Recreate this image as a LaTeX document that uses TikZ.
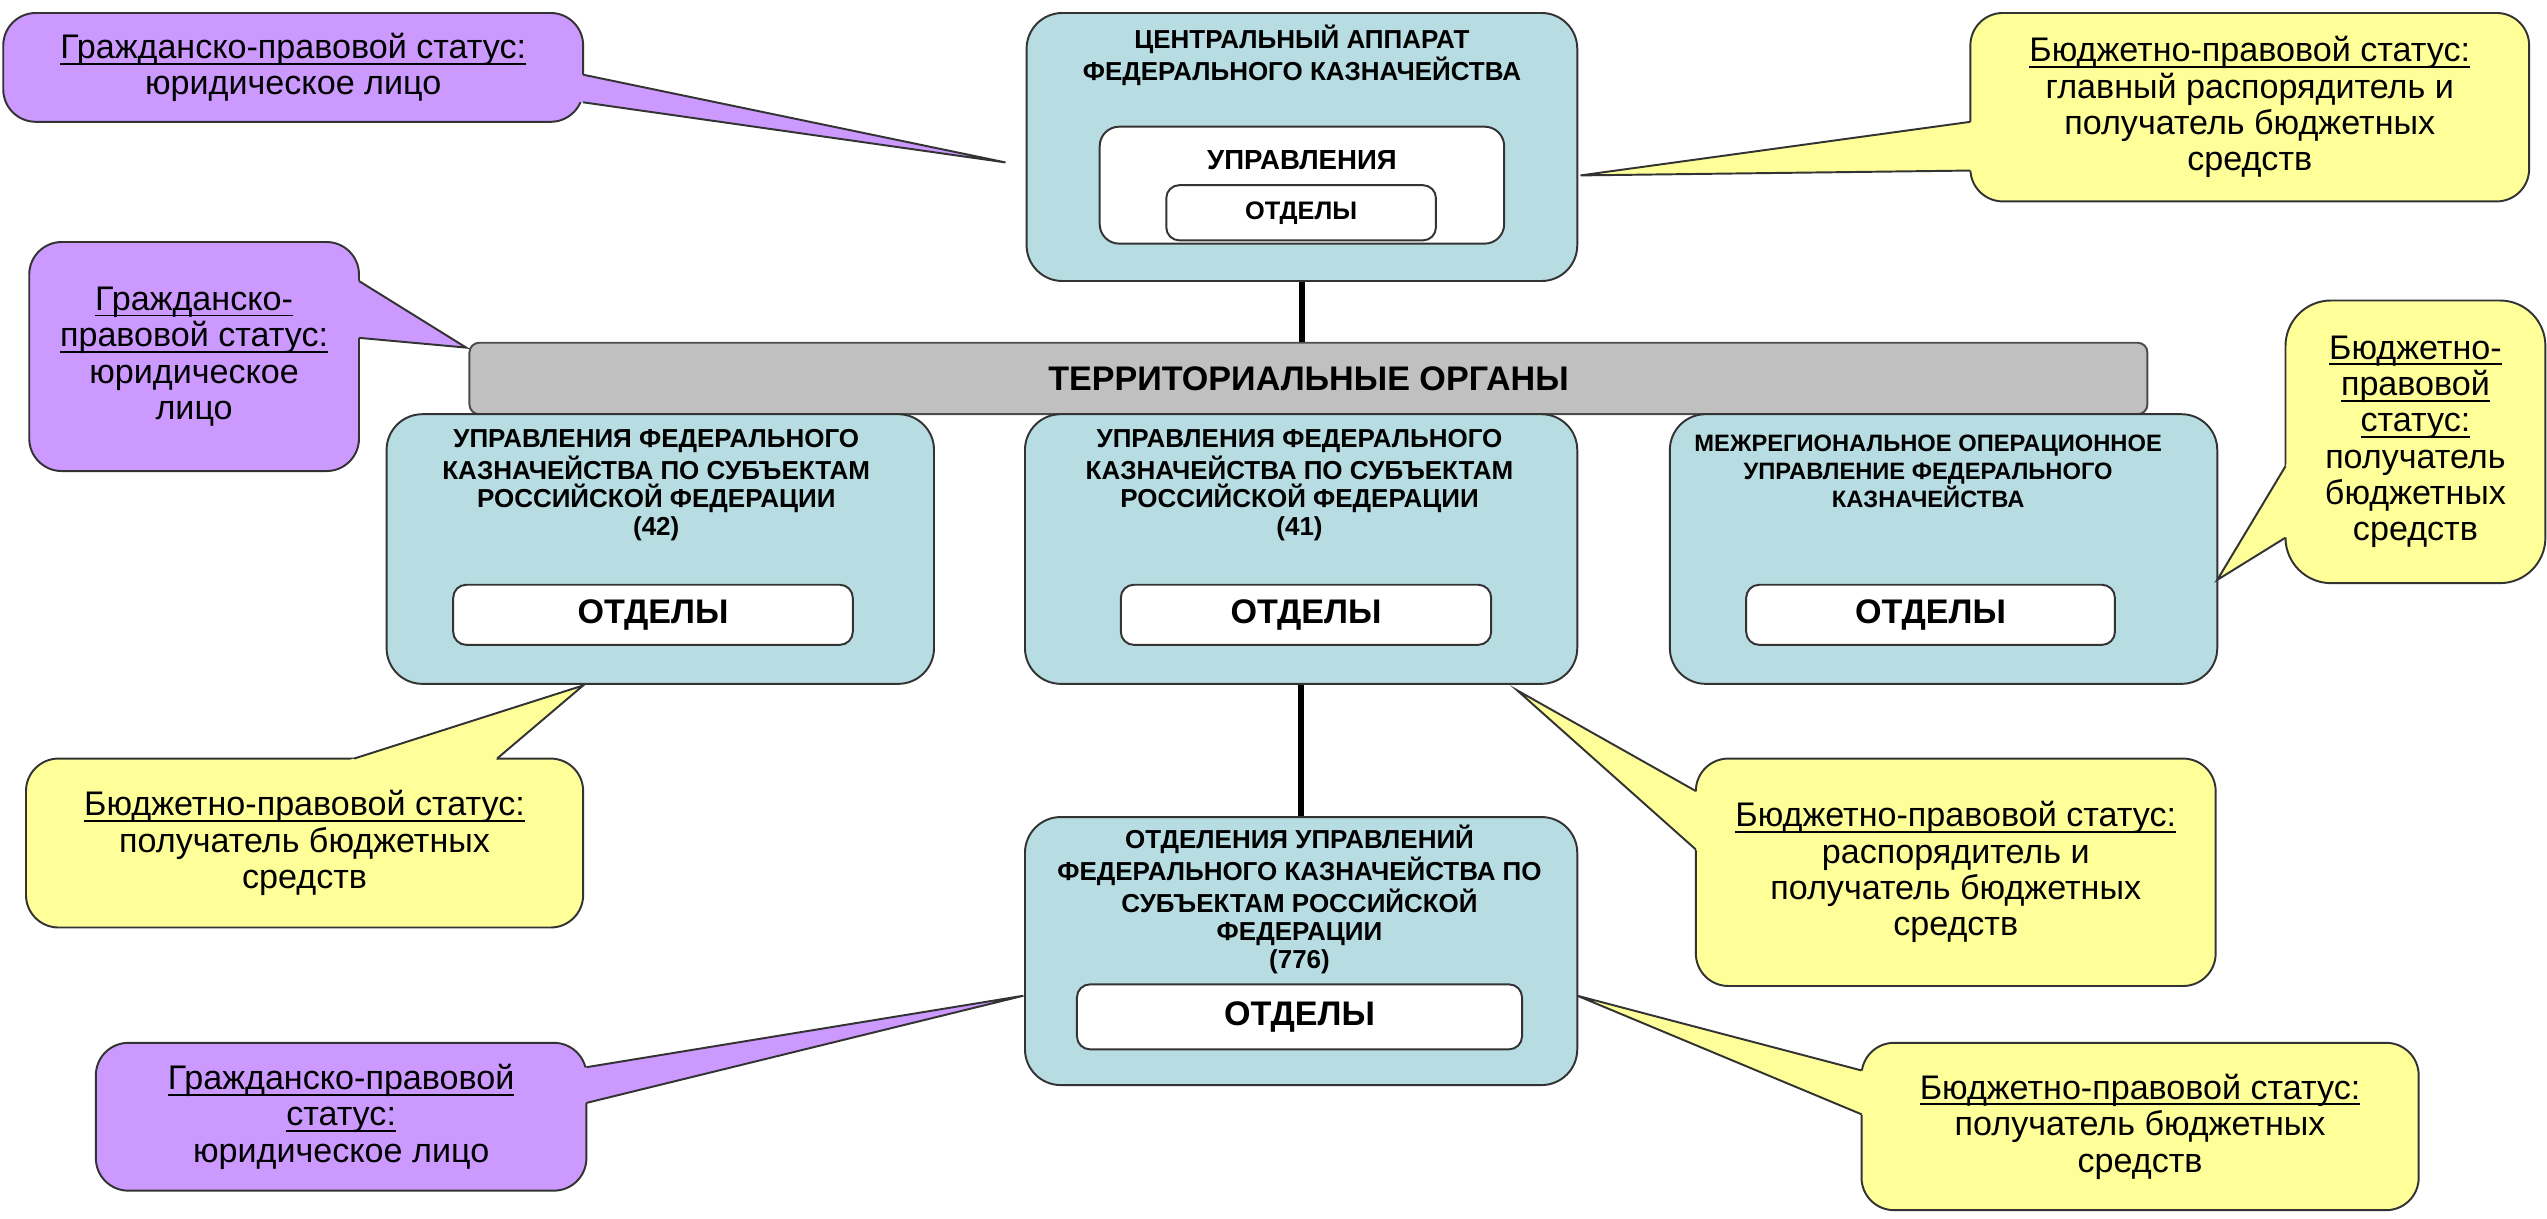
\documentclass[tikz,border=0pt]{standalone}
\usepackage{fontspec}
\setmainfont{Liberation Sans}
\usepackage{tikz}
\usetikzlibrary{calc}
\usepackage{xcolor}
\definecolor{boxteal}{RGB}{183,221,226}
\definecolor{barsilver}{RGB}{192,192,192}
\definecolor{civilviolet}{RGB}{204,153,255}
\definecolor{budgetyellow}{RGB}{255,255,153}
\newsavebox\ulbox
\newcommand\ultext[1]{\sbox\ulbox{#1}\rlap{\vrule height -1.3pt depth 1.9pt width \wd\ulbox}\usebox\ulbox}
\tikzset{bigtealnode/.style={rectangle, rounded corners=11pt, fill=boxteal, draw=black!80, line width=0.6pt, inner sep=0pt},smallwhitenode/.style={rectangle, rounded corners=4pt, fill=white, draw=black!80, line width=0.6pt, inner sep=0pt, font=\bfseries\fontsize{10.5}{12}\selectfont}}
\tikzset{violetnode/.style={rectangle, rounded corners=10pt, fill=civilviolet, draw=black!80, line width=0.6pt, inner sep=2pt, align=center, font=\fontsize{10.5}{11.2}\selectfont},yellownode/.style={rectangle, rounded corners=10pt, fill=budgetyellow, draw=black!80, line width=0.6pt, inner sep=2pt, align=center, font=\fontsize{10.5}{11.2}\selectfont}}

\begin{document}
\begin{tikzpicture}[
        line join=miter,
        titletext/.style={align=center, inner sep=0pt, font=\bfseries\fontsize{8}{8.6}\selectfont},
        greybar/.style={rectangle, rounded corners=3pt, fill=barsilver, draw=black!70, line width=0.6pt, inner sep=0pt, font=\bfseries\fontsize{10.5}{12}\selectfont},
        link/.style={black, line width=2pt},
        tailline/.style={draw=black!80, line width=0.6pt}
    ]
        \useasboundingbox (0pt, 0pt) rectangle (784pt, 375pt);
        % Central apparatus
        \node[bigtealnode, minimum width=169.5pt, minimum height=82.5pt] (cap) at (400.75pt, 329.75pt) {};
        \node[titletext] (captitle) at (400.75pt, 358pt) {ЦЕНТРАЛЬНЫЙ АППАРАТ\\ФЕДЕРАЛЬНОГО КАЗНАЧЕЙСТВА};
        \node[smallwhitenode, rounded corners=6pt, minimum width=124.5pt, minimum height=36pt] (capupr) at (400.75pt, 318pt) {};
        \node[inner sep=0pt, font=\bfseries\fontsize{8.5}{10}\selectfont] (capuprtext) at (400.75pt, 325.7pt) {УПРАВЛЕНИЯ};
        \node[smallwhitenode, minimum width=83pt, minimum height=17pt, font=\bfseries\fontsize{7.8}{9}\selectfont] (capotd) at (400.5pt, 309.5pt) {ОТДЕЛЫ};
        % Territorial bodies
        \node[greybar, minimum width=516.5pt, minimum height=22pt] (terr) at (402.75pt, 258.5pt) {ТЕРРИТОРИАЛЬНЫЕ ОРГАНЫ};
        \node[bigtealnode, minimum width=168.5pt, minimum height=83pt] (subjl) at (203.25pt, 206pt) {};
        \node[bigtealnode, minimum width=170pt, minimum height=83pt] (subjm) at (400.5pt, 206pt) {};
        \node[bigtealnode, minimum width=168.5pt, minimum height=83pt] (mou) at (598.25pt, 206pt) {};
        \node[titletext] (subjltitle) at (202pt, 225.75pt) {УПРАВЛЕНИЯ ФЕДЕРАЛЬНОГО\\КАЗНАЧЕЙСТВА ПО СУБЪЕКТАМ\\РОССИЙСКОЙ ФЕДЕРАЦИИ\\(42)};
        \node[titletext] (subjmtitle) at (400pt, 225.75pt) {УПРАВЛЕНИЯ ФЕДЕРАЛЬНОГО\\КАЗНАЧЕЙСТВА ПО СУБЪЕКТАМ\\РОССИЙСКОЙ ФЕДЕРАЦИИ\\(41)};
        \node[titletext, font=\bfseries\fontsize{7.3}{8.6}\selectfont] (moutitle) at (593.5pt, 230pt) {МЕЖРЕГИОНАЛЬНОЕ ОПЕРАЦИОННОЕ\\УПРАВЛЕНИЕ ФЕДЕРАЛЬНОГО\\КАЗНАЧЕЙСТВА};
        \foreach \n/\x/\w in {
            subjl/201pt/123pt,
            subjm/402pt/114pt,
            mou/594.25pt/113.5pt} {
            \node[smallwhitenode, minimum width=\w, minimum height=18.5pt] (\n-otd) at (\x, 185.75pt) {ОТДЕЛЫ};
        }
        % Departments
        \node[bigtealnode, minimum width=170pt, minimum height=82.5pt] (dept) at (400.5pt, 82.25pt) {};
        \node[titletext] (depttitle) at (400pt, 98.25pt) {ОТДЕЛЕНИЯ УПРАВЛЕНИЙ\\ФЕДЕРАЛЬНОГО КАЗНАЧЕЙСТВА ПО\\СУБЪЕКТАМ РОССИЙСКОЙ\\ФЕДЕРАЦИИ\\(776)};
        \node[smallwhitenode, minimum width=137pt, minimum height=20pt] (dept-otd) at (400pt, 62pt) {ОТДЕЛЫ};
        % Lines
        \draw[link] (cap.south) -- (cap.south |- terr.north);
        \draw[link] (subjm.south) -- (dept.north);
        % Callouts
        \node[violetnode, minimum width=178.5pt, minimum height=33.5pt] (civtop) at (90.25pt, 354.25pt) {\ultext{Гражданско-правовой статус:}\\юридическое лицо};
        \node[violetnode, minimum width=101.5pt, minimum height=70.5pt] (civmid) at (59.75pt, 265.25pt) {\ultext{Гражданско-}\\\ultext{правовой статус:}\\юридическое\\лицо};
        \node[violetnode, minimum width=151pt, minimum height=45.5pt] (civbot) at (105pt, 31.25pt) {\ultext{Гражданско-правовой}\\\ultext{статус:}\\юридическое лицо};
        \node[yellownode, minimum width=172pt, minimum height=58pt] (budtop) at (692.5pt, 342pt) {\ultext{Бюджетно-правовой статус:}\\главный распорядитель и\\получатель бюджетных\\средств};
        \node[yellownode, minimum width=171.5pt, minimum height=52pt] (budleft) at (93.75pt, 115.5pt) {\ultext{Бюджетно-правовой статус:}\\получатель бюджетных\\средств};
        \node[yellownode, minimum width=160pt, minimum height=70pt] (budmid) at (602pt, 106.5pt) {\ultext{Бюджетно-правовой статус:}\\распорядитель и\\получатель бюджетных\\средств};
        \node[yellownode, rounded corners=14pt, minimum width=80pt, minimum height=87pt] (budright) at (743.5pt, 239pt) {\ultext{Бюджетно-}\\\ultext{правовой}\\\ultext{статус:}\\получатель\\бюджетных\\средств};
        \node[yellownode, minimum width=171.5pt, minimum height=51.5pt] (budbot) at (658.75pt, 28.25pt) {\ultext{Бюджетно-правовой статус:}\\получатель бюджетных\\средств};
        % Callout tails
        \coordinate (civtop-b1) at (179.5pt, 352pt);
        \coordinate (civtop-b2) at (179.5pt, 343.5pt);
        \coordinate (civtop-tip) at (309.5pt, 325pt);
        \coordinate (civmid-b1) at (110.5pt, 288.5pt);
        \coordinate (civmid-b2) at (110.5pt, 271pt);
        \coordinate (civmid-tip) at (143.5pt, 268pt);
        \coordinate (civbot-b1) at (180.5pt, 46.5pt);
        \coordinate (civbot-b2) at (180.5pt, 35.5pt);
        \coordinate (civbot-tip) at (315pt, 68.5pt);
        \coordinate (budtop-b1) at (606.5pt, 337.5pt);
        \coordinate (budtop-b2) at (606.5pt, 322.5pt);
        \coordinate (budtop-tip) at (486.5pt, 321pt);
        \coordinate (budleft-b1) at (109pt, 141.5pt);
        \coordinate (budleft-b2) at (153pt, 141.5pt);
        \coordinate (budleft-tip) at (179.5pt, 164pt);
        \coordinate (budmid-b1) at (522pt, 131.5pt);
        \coordinate (budmid-b2) at (522pt, 113.5pt);
        \coordinate (budmid-tip) at (467pt, 162.5pt);
        \coordinate (budright-b1) at (703.5pt, 231.5pt);
        \coordinate (budright-b2) at (703.5pt, 209.5pt);
        \coordinate (budright-tip) at (682.5pt, 196.5pt);
        \coordinate (budbot-b1) at (573pt, 45.5pt);
        \coordinate (budbot-b2) at (573pt, 32pt);
        \coordinate (budbot-tip) at (485.5pt, 68.5pt);
        \foreach \n/\c in {
            civtop/civilviolet, civmid/civilviolet, civbot/civilviolet,
            budtop/budgetyellow, budleft/budgetyellow, budmid/budgetyellow,
            budright/budgetyellow, budbot/budgetyellow} {
            \fill[\c] ($(\n-b1)!-1.5pt!(\n-tip)$) -- (\n-tip) -- ($(\n-b2)!-1.5pt!(\n-tip)$) -- cycle;
            \draw[tailline] (\n-b1) -- (\n-tip) -- (\n-b2);
        }
    \end{tikzpicture}
\end{document}
